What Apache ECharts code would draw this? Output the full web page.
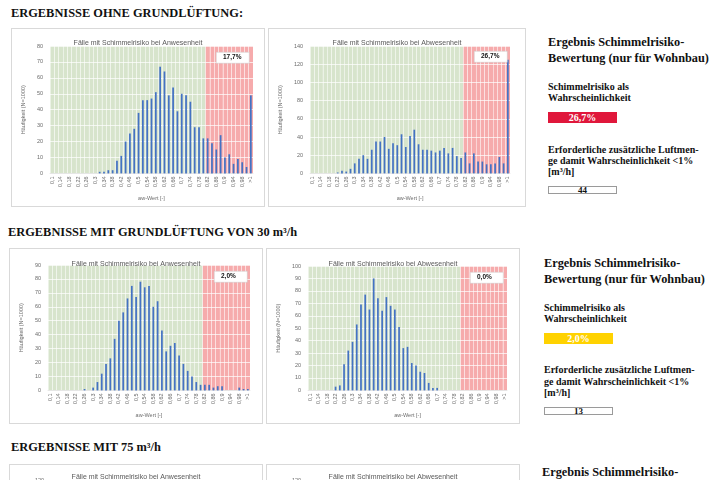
<!DOCTYPE html>
<html>
<head>
<meta charset="utf-8">
<script src="https://cdn.jsdelivr.net/npm/echarts@6/dist/echarts.min.js"></script>
<style>
  html, body { margin: 0; padding: 0; background: #fff; width: 720px; height: 480px; overflow: hidden; }
  .abs { position: absolute; }
  .box { position: absolute; border: 1px solid #d9d9d9; box-sizing: border-box; background: #fff; overflow: hidden; }
  .serif { font-family: 'Liberation Serif', 'DejaVu Serif', serif; font-weight: bold; color: #111; white-space: nowrap; }
  .h1 { font-size: 12.4px; line-height: 16px; }
  .ph { font-size: 12.3px; line-height: 16px; }
  .pt { font-size: 10px; line-height: 11px; }
  .risk { position: absolute; width: 69px; height: 11px; color: #fff; text-align: center; font-size: 10px; line-height: 11px; }
  .need { position: absolute; width: 69px; height: 8px; border: 1px solid #9a9a9a; box-sizing: border-box; text-align: center; font-size: 9px; line-height: 7px; }
</style>
</head>
<body>
<div class="abs serif h1" style="left:11px;top:5px">ERGEBNISSE OHNE GRUNDLÜFTUNG:</div>
<div class="abs serif h1" style="left:8px;top:224px">ERGEBNISSE MIT GRUNDLÜFTUNG VON 30 m³/h</div>
<div class="abs serif h1" style="left:11px;top:439px">ERGEBNISSE MIT 75 m³/h</div>

<div id="c1" class="box" style="left:11px;top:28px;width:254px;height:179px"></div>
<div id="c2" class="box" style="left:268px;top:28px;width:258px;height:179px"></div>
<div id="c3" class="box" style="left:9px;top:248px;width:254px;height:176px"></div>
<div id="c4" class="box" style="left:266px;top:248px;width:254px;height:176px"></div>
<div id="c5" class="box" style="left:9px;top:464px;width:254px;height:176px"></div>
<div id="c6" class="box" style="left:266px;top:464px;width:254px;height:176px"></div>

<!-- Ergebnis-Kästen rechts -->
<div class="abs serif ph" style="left:548px;top:34px">Ergebnis Schimmelrisiko-<br>Bewertung (nur für Wohnbau)</div>
<div class="abs serif pt" style="left:548px;top:81px">Schimmelrisiko als<br>Wahrscheinlichkeit</div>
<div class="risk serif" style="left:548px;top:112px;background:#e0173b">26,7%</div>
<div class="abs serif pt" style="left:548px;top:144px">Erforderliche zusätzliche Luftmen-<br>ge damit Wahrscheinlichkeit &lt;1%<br>[m³/h]</div>
<div class="need serif" style="left:548px;top:186px">44</div>

<div class="abs serif ph" style="left:544px;top:255px">Ergebnis Schimmelrisiko-<br>Bewertung (nur für Wohnbau)</div>
<div class="abs serif pt" style="left:544px;top:302px">Schimmelrisiko als<br>Wahrscheinlichkeit</div>
<div class="risk serif" style="left:544px;top:333px;background:#ffd200">2,0%</div>
<div class="abs serif pt" style="left:544px;top:364px;line-height:11.5px">Erforderliche zusätzliche Luftmen-<br>ge damit Wahrscheinlichkeit &lt;1%<br>[m³/h]</div>
<div class="need serif" style="left:544px;top:407px">13</div>

<div class="abs serif ph" style="left:542px;top:464px">Ergebnis Schimmelrisiko-<br>Bewertung (nur für Wohnbau)</div>

<script>
// aw-Wert Klassen
const categories = [
  '0,1', '0,12', '0,14', '0,16', '0,18', '0,2', '0,22', '0,24', '0,26', '0,28',
  '0,3', '0,32', '0,34', '0,36', '0,38', '0,4', '0,42', '0,44', '0,46', '0,48',
  '0,5', '0,52', '0,54', '0,56', '0,58', '0,6', '0,62', '0,64', '0,66', '0,68',
  '0,7', '0,72', '0,74', '0,76', '0,78', '0,8', '0,82', '0,84', '0,86', '0,88',
  '0,9', '0,92', '0,94', '0,96', '0,98', '1', '>1'
]
// ab hier Schimmelrisiko (0,82)
const riskStart = 36

// ohne Grundlüftung
const anwesenheitOhne = [
  0, 0, 0, 0, 0, 0, 0, 0, 0, 0,
  0, 1, 1, 2, 2, 8, 11, 20, 25, 28,
  38, 46, 46, 47, 51, 67, 64, 49, 54, 39,
  50, 49, 45, 29, 29, 22, 22, 19, 15, 24,
  10, 12, 6, 9, 7, 4, 49
]
const abwesenheitOhne = [
  0, 0, 0, 0, 0, 0, 1, 3, 2, 5,
  11, 16, 20, 16, 26, 35, 35, 40, 27, 33,
  31, 43, 29, 41, 48, 32, 26, 26, 25, 23,
  25, 28, 22, 28, 19, 17, 23, 11, 22, 13,
  13, 10, 10, 11, 18, 11, 125
]
// Grundlüftung 30 m³/h
const anwesenheit30 = [
  0, 0, 0, 0, 0, 0, 0, 0, 1, 0,
  2, 6, 12, 19, 23, 37, 50, 56, 66, 75,
  67, 78, 74, 75, 60, 64, 43, 28, 32, 34,
  25, 19, 14, 10, 6, 4, 4, 4, 2, 3,
  3, 0, 0, 0, 2, 1, 1
]
const abwesenheit30 = [
  0, 0, 0, 0, 0, 0, 3, 4, 21, 32,
  39, 53, 69, 77, 65, 90, 74, 64, 75, 68,
  65, 51, 34, 35, 22, 20, 15, 14, 6, 2,
  2, 0, 0, 0, 0, 0, 0, 0, 0, 0,
  0, 0, 0, 0, 0, 0, 0
]
// 75 m³/h (Diagramme unten abgeschnitten)
const anwesenheit75 = []
const abwesenheit75 = []

const titleAnw = 'Fälle mit Schimmelrisiko bei Anwesenheit'
const titleAbw = 'Fälle mit Schimmelrisiko bei Abwesenheit'

const safeColor = '#d7e4cc'
const riskColor = '#f6abac'
const barColor = '#4472c4'
const textColor = '#6b6b6b'
const font = 'Liberation Sans, Arial, sans-serif'

function buildOption (cfg) {
  // Hintergrund: grün bis 0,8 / rot ab 0,82
  let bg = categories.map((c, i) => ({
    value: cfg.yMax,
    itemStyle: { color: i >= riskStart ? riskColor : safeColor }
  }))
  let graphic = []
  if (cfg.share) {
    graphic.push({
      type: 'rect',
      left: cfg.box[0],
      top: cfg.box[1],
      z: 100,
      shape: { width: 33, height: 11 },
      style: { fill: '#fff', stroke: '#c8c8c8', lineWidth: 0.5 }
    }, {
      type: 'text',
      left: cfg.box[0] + 7,
      top: cfg.box[1] + 2,
      z: 101,
      style: {
        text: cfg.share,
        fontSize: 6.5,
        fontWeight: 'bold',
        fontFamily: font,
        fill: '#111'
      }
    })
  }
  return {
    animation: false,
    textStyle: { fontFamily: font },
    title: {
      text: cfg.title,
      left: 'center',
      top: cfg.titleTop,
      textStyle: { fontSize: 7, fontWeight: 'normal', color: '#595959', fontFamily: font }
    },
    grid: cfg.grid,
    xAxis: [
      {
        type: 'category',
        data: categories,
        z: 1,
        axisTick: { show: false },
        axisLine: { lineStyle: { color: '#d0d0d0', width: 0.5 } },
        axisLabel: { interval: 1, rotate: 90, fontSize: 5.5, color: textColor, margin: 3 },
        splitLine: { show: true, interval: 0, lineStyle: { color: 'rgba(255,255,255,0.5)', width: 1 } },
        name: 'aw-Wert [-]',
        nameLocation: 'middle',
        nameGap: 18,
        nameTextStyle: { fontSize: 5.5, color: textColor }
      },
      { type: 'category', data: categories, show: false }
    ],
    yAxis: {
      type: 'value',
      min: 0,
      max: cfg.yMax,
      interval: cfg.step,
      z: 1,
      axisLine: { show: false },
      axisTick: { show: false },
      axisLabel: { fontSize: 5.5, color: textColor, margin: 7 },
      splitLine: { lineStyle: { color: 'rgba(255,255,255,0.7)', width: 1 } },
      name: 'Häufigkeit (N=1000)',
      nameLocation: 'middle',
      nameGap: 19,
      nameTextStyle: { fontSize: 5.5, color: textColor }
    },
    series: [
      { type: 'bar', xAxisIndex: 1, data: bg, barWidth: '100%', z: 0, silent: true },
      { type: 'bar', data: cfg.data, barWidth: '40%', z: 3, itemStyle: { color: barColor } }
    ],
    graphic: { elements: graphic }
  }
}

const charts = [
  { id: 'c1', title: titleAnw, data: anwesenheitOhne, yMax: 80, step: 10, share: '17,7%', box: [204, 23], titleTop: 6, grid: { left: 32, right: 11, top: 17, bottom: 30 } },
  { id: 'c2', title: titleAbw, data: abwesenheitOhne, yMax: 140, step: 20, share: '26,7%', box: [205, 22], titleTop: 6, grid: { left: 31, right: 15, top: 17, bottom: 29 } },
  { id: 'c3', title: titleAnw, data: anwesenheit30, yMax: 90, step: 10, share: '2,0%', box: [204, 22], titleTop: 7, grid: { left: 32, right: 12, top: 16, bottom: 28 } },
  { id: 'c4', title: titleAbw, data: abwesenheit30, yMax: 100, step: 10, share: '0,0%', box: [203, 23], titleTop: 7, grid: { left: 31, right: 12, top: 17, bottom: 27 } },
  { id: 'c5', title: titleAnw, data: anwesenheit75, yMax: 120, step: 20, titleTop: 4, grid: { left: 32, right: 12, top: 15, bottom: 28 } },
  { id: 'c6', title: titleAbw, data: abwesenheit75, yMax: 120, step: 20, titleTop: 4, grid: { left: 31, right: 12, top: 15, bottom: 28 } }
]

charts.forEach(cfg => {
  let chart = echarts.init(document.getElementById(cfg.id), null, { renderer: 'canvas' })
  chart.setOption(buildOption(cfg))
})
</script>
</body>
</html>
